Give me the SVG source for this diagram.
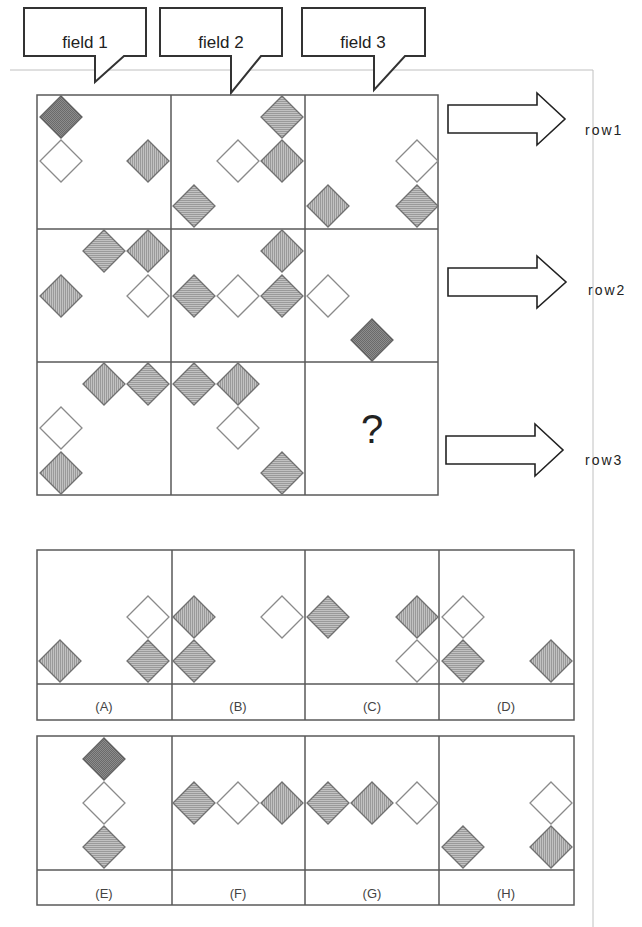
<svg xmlns="http://www.w3.org/2000/svg" xmlns:xlink="http://www.w3.org/1999/xlink" width="642" height="927" viewBox="0 0 642 927">
<style>
.frame{stroke:#c0c0c0;stroke-width:1;fill:none}
.grid{stroke:#5a5a5a;stroke-width:1.5;fill:none}
.callout{fill:#fff;stroke:#333;stroke-width:2}
.ctext{font-family:"Liberation Sans",Arial,sans-serif;font-size:17px;fill:#222;text-anchor:middle}
.rtext{font-family:"Liberation Sans",Arial,sans-serif;font-size:14px;fill:#222;letter-spacing:2px}
.otext{font-family:"Liberation Sans",Arial,sans-serif;font-size:13px;fill:#444;text-anchor:middle}
.arrow{fill:#fff;stroke:#222;stroke-width:1.6}
.w{fill:#fff;stroke:#8a8a8a;stroke-width:1.3}
.h{fill:url(#ph);stroke:#707070;stroke-width:1.3}
.v{fill:url(#pv);stroke:#707070;stroke-width:1.3}
.k{fill:url(#pk);stroke:#606060;stroke-width:1.3}
</style>
<defs>
<pattern id="ph" patternUnits="userSpaceOnUse" width="3" height="2"><rect width="3" height="2" fill="#c2c2c2"/><rect width="3" height="1" fill="#9a9a9a"/></pattern>
<pattern id="pv" patternUnits="userSpaceOnUse" width="2" height="3"><rect width="2" height="3" fill="#c2c2c2"/><rect width="1" height="3" fill="#9a9a9a"/></pattern>
<pattern id="pk" patternUnits="userSpaceOnUse" width="2" height="2"><rect width="2" height="2" fill="#8c8c8c"/><rect width="1" height="1" fill="#6a6a6a"/><rect x="1" y="1" width="1" height="1" fill="#6a6a6a"/></pattern>
<path id="d" d="M0,-21 L21,0 L0,21 L-21,0 Z"/>
</defs>
<rect width="642" height="927" fill="#fff"/>
<path class="frame" d="M10,70 H593 V927"/>

<g id="callouts">
<g id="callout-field1"><path class="callout" d="M24,8 H146 V56 H124 L95,82 V56 H24 Z"/><text class="ctext" x="85" y="48">field 1</text></g>
<g id="callout-field2"><path class="callout" d="M160,8 H282 V56 H261 L231,93 V56 H160 Z"/><text class="ctext" x="221" y="48">field 2</text></g>
<g id="callout-field3"><path class="callout" d="M302,8 H425 V56 H405 L374,90 V56 H302 Z"/><text class="ctext" x="363" y="48">field 3</text></g>
</g>

<g id="matrix">
<rect class="grid" x="37" y="95" width="401" height="400"/>
<path class="grid" d="M171,95 V495 M305,95 V495 M37,229 H438 M37,362 H438"/>
<g id="r1f1"><use xlink:href="#d" x="61" y="117" class="k"/><use xlink:href="#d" x="61" y="161" class="w"/><use xlink:href="#d" x="148" y="161" class="v"/></g>
<g id="r1f2"><use xlink:href="#d" x="282" y="117" class="h"/><use xlink:href="#d" x="238" y="161" class="w"/><use xlink:href="#d" x="282" y="161" class="v"/><use xlink:href="#d" x="194" y="206" class="h"/></g>
<g id="r1f3"><use xlink:href="#d" x="417" y="161" class="w"/><use xlink:href="#d" x="328" y="206" class="v"/><use xlink:href="#d" x="417" y="206" class="h"/></g>
<g id="r2f1"><use xlink:href="#d" x="104" y="251" class="h"/><use xlink:href="#d" x="148" y="251" class="v"/><use xlink:href="#d" x="61" y="296" class="v"/><use xlink:href="#d" x="148" y="296" class="w"/></g>
<g id="r2f2"><use xlink:href="#d" x="282" y="251" class="v"/><use xlink:href="#d" x="194" y="296" class="h"/><use xlink:href="#d" x="238" y="296" class="w"/><use xlink:href="#d" x="282" y="296" class="h"/></g>
<g id="r2f3"><use xlink:href="#d" x="328" y="296" class="w"/><use xlink:href="#d" x="372" y="340" class="k"/></g>
<g id="r3f1"><use xlink:href="#d" x="104" y="384" class="v"/><use xlink:href="#d" x="148" y="384" class="h"/><use xlink:href="#d" x="61" y="428" class="w"/><use xlink:href="#d" x="61" y="473" class="v"/></g>
<g id="r3f2"><use xlink:href="#d" x="194" y="384" class="h"/><use xlink:href="#d" x="238" y="384" class="v"/><use xlink:href="#d" x="238" y="428" class="w"/><use xlink:href="#d" x="282" y="473" class="h"/></g>
<g id="r3f3"><text x="372" y="443" font-family="Liberation Sans, Arial, sans-serif" font-size="40" fill="#222" text-anchor="middle">?</text></g>
</g>

<g id="row-arrows">
<g id="row1"><path class="arrow" d="M448,105 H537 V93 L565,119 L537,145 V133 H448 Z"/><text class="rtext" x="585" y="135">row1</text></g>
<g id="row2"><path class="arrow" d="M448,268 H537 V256 L566,282 L537,308 V296 H448 Z"/><text class="rtext" x="588" y="295">row2</text></g>
<g id="row3"><path class="arrow" d="M446,436 H535 V424 L563,450 L535,476 V464 H446 Z"/><text class="rtext" x="585" y="465">row3</text></g>
</g>

<g id="options1">
<rect class="grid" x="37" y="550" width="537" height="170"/>
<path class="grid" d="M172,550 V720 M305,550 V720 M439,550 V720 M37,684 H574"/>
<g id="optA"><use xlink:href="#d" x="148" y="617" class="w"/><use xlink:href="#d" x="60" y="661" class="v"/><use xlink:href="#d" x="148" y="661" class="h"/><text class="otext" x="104" y="711">(A)</text></g>
<g id="optB"><use xlink:href="#d" x="194" y="617" class="v"/><use xlink:href="#d" x="194" y="661" class="h"/><use xlink:href="#d" x="282" y="617" class="w"/><text class="otext" x="238" y="711">(B)</text></g>
<g id="optC"><use xlink:href="#d" x="328" y="617" class="h"/><use xlink:href="#d" x="417" y="617" class="v"/><use xlink:href="#d" x="417" y="661" class="w"/><text class="otext" x="372" y="711">(C)</text></g>
<g id="optD"><use xlink:href="#d" x="463" y="617" class="w"/><use xlink:href="#d" x="463" y="661" class="h"/><use xlink:href="#d" x="551" y="661" class="v"/><text class="otext" x="506" y="711">(D)</text></g>
</g>

<g id="options2">
<rect class="grid" x="37" y="736" width="537" height="169"/>
<path class="grid" d="M172,736 V905 M305,736 V905 M439,736 V905 M37,870 H574"/>
<g id="optE"><use xlink:href="#d" x="104" y="759" class="k"/><use xlink:href="#d" x="104" y="803" class="w"/><use xlink:href="#d" x="104" y="847" class="h"/><text class="otext" x="104" y="898">(E)</text></g>
<g id="optF"><use xlink:href="#d" x="194" y="803" class="h"/><use xlink:href="#d" x="238" y="803" class="w"/><use xlink:href="#d" x="282" y="803" class="v"/><text class="otext" x="238" y="898">(F)</text></g>
<g id="optG"><use xlink:href="#d" x="328" y="803" class="h"/><use xlink:href="#d" x="372" y="803" class="v"/><use xlink:href="#d" x="417" y="803" class="w"/><text class="otext" x="372" y="898">(G)</text></g>
<g id="optH"><use xlink:href="#d" x="551" y="803" class="w"/><use xlink:href="#d" x="463" y="847" class="h"/><use xlink:href="#d" x="551" y="847" class="v"/><text class="otext" x="506" y="898">(H)</text></g>
</g>
</svg>
